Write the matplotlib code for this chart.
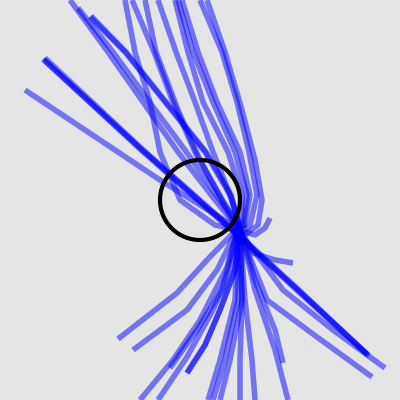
import matplotlib
matplotlib.use("Agg")
import matplotlib.pyplot as plt
from matplotlib.patches import Circle

# tracks, pixel units (y grows downwards)
# dark tracks are listed more than once so they overlap
tracks_upleft = [
    [(240, 230), (160, 180), (100, 140), (25, 90)],
    [(43, 59), (140, 148), (238, 235), (300, 292), (368, 355)],
    [(44, 60), (140, 149), (238, 236), (300, 293), (367, 354)],
    [(45, 58), (140, 147), (238, 234), (300, 291), (369, 356)],
    [(90, 17), (125, 52), (165, 102), (205, 152), (230, 195), (240, 228),
     (235, 270), (220, 310), (205, 345), (187, 373)],
    [(91, 16), (126, 52), (166, 102), (206, 152), (231, 195), (240, 228),
     (235, 270), (220, 310), (205, 345), (187, 373)],
    [(70, 0), (108, 52), (143, 102), (178, 152), (215, 200), (238, 228)],
    [(78, 8), (113, 52), (148, 100), (185, 150), (220, 200), (238, 228),
     (222, 290), (197, 330), (170, 368)],
]

tracks_up = [
    [(125, 0), (135, 52), (150, 102), (160, 152), (180, 200), (215, 225), (238, 230)],
    [(132, 0), (154, 52), (173, 102), (195, 152), (222, 200), (240, 228)],
    [(145, 0), (156, 52), (178, 110), (200, 160), (225, 205), (240, 228)],
    [(158, 0), (176, 52), (195, 102), (213, 152), (232, 200), (240, 228)],
    [(175, 0), (188, 52), (203, 102), (228, 152), (242, 195), (242, 228)],
    [(178, 0), (193, 52), (213, 102), (235, 152), (247, 195), (243, 228)],
    [(182, 0), (198, 52), (217, 102), (240, 152), (250, 195), (244, 228)],
    [(200, 0), (222, 52), (237, 102), (249, 152), (257, 195), (250, 225), (242, 232)],
    [(207, 0), (225, 52), (242, 110), (255, 160), (262, 200), (258, 225), (245, 235)],
]

tracks_down = [
    [(238, 228), (207, 260), (177, 293), (118, 339)],
    [(238, 228), (217, 270), (187, 310), (133, 350)],
    [(238, 228), (227, 267), (200, 320), (173, 360), (140, 400)],
    [(238, 228), (230, 270), (213, 310), (187, 357), (158, 400)],
    [(238, 228), (235, 300), (220, 360), (208, 400)],
    [(238, 228), (238, 300), (225, 360), (213, 400)],
    [(240, 228), (242, 300), (230, 360), (220, 400)],
    [(240, 228), (242, 300), (240, 360), (240, 400)],
    [(240, 228), (245, 300), (252, 360), (255, 400)],
    [(240, 228), (255, 290), (275, 350), (288, 400)],
    [(240, 228), (255, 280), (275, 330), (283, 363)],
]

tracks_right = [
    [(240, 232), (283, 290), (333, 330), (385, 368)],
    [(240, 232), (267, 300), (317, 337), (372, 377)],
    [(240, 230), (253, 253), (275, 260), (293, 263)],
    [(240, 230), (255, 235), (265, 228), (270, 218)],
]

circle_center = (200, 200)
circle_radius = 40

fig = plt.figure(figsize=(4, 4), dpi=100)
fig.patch.set_facecolor("#e5e5e5")
ax = fig.add_axes([0, 0, 1, 1])
ax.set_facecolor("#e5e5e5")

for tr in tracks_upleft + tracks_up + tracks_down + tracks_right:
    xs = [p[0] for p in tr]
    ys = [p[1] for p in tr]
    ax.plot(xs, ys, color="blue", alpha=0.5, linewidth=4.0,
            solid_capstyle="butt", zorder=2)

ax.add_patch(Circle(circle_center, circle_radius, fill=False,
                    edgecolor="black", linewidth=3, zorder=3))

ax.set_xlim(0, 400)
ax.set_ylim(400, 0)
ax.axis("off")

fig.savefig("out.png", dpi=100, facecolor=fig.get_facecolor())
